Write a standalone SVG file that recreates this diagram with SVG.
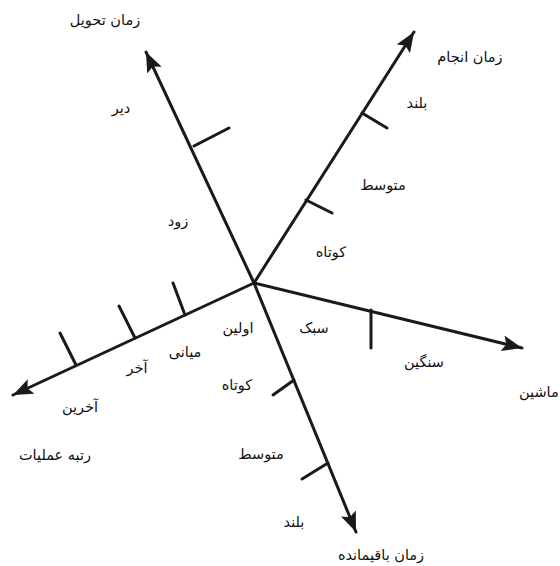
<svg xmlns="http://www.w3.org/2000/svg" width="560" height="566" viewBox="0 0 560 566">
<style>
.ax{stroke:#1a1a1a;stroke-width:3;fill:none;stroke-linecap:round}
.tk{stroke:#1a1a1a;stroke-width:3;fill:none;stroke-linecap:round}
text{font-family:"DejaVu Sans",sans-serif;font-size:14.5px;fill:#111;text-anchor:middle}
</style>
<defs>
<marker id="arr" markerUnits="userSpaceOnUse" markerWidth="24" markerHeight="18" refX="20" refY="8" orient="auto">
<path d="M0,0 L20,8 L0,16 L4,8 Z" fill="#1a1a1a"/>
</marker>
</defs>
<g id="connectors">
<line class="ax" x1="254" y1="283" x2="146" y2="52" marker-end="url(#arr)"/>
<line class="ax" x1="254" y1="283" x2="414" y2="32" marker-end="url(#arr)"/>
<line class="ax" x1="254" y1="283" x2="522" y2="348" marker-end="url(#arr)"/>
<line class="ax" x1="254" y1="283" x2="13" y2="395" marker-end="url(#arr)"/>
<line class="ax" x1="254" y1="283" x2="356" y2="532" marker-end="url(#arr)"/>
<line class="tk" x1="194" y1="146" x2="229" y2="128"/>
<line class="tk" x1="362" y1="113" x2="387" y2="128"/>
<line class="tk" x1="306" y1="200" x2="332" y2="213"/>
<line class="tk" x1="371" y1="310" x2="371" y2="348"/>
<line class="tk" x1="185" y1="315" x2="173" y2="283"/>
<line class="tk" x1="135" y1="338" x2="119" y2="306"/>
<line class="tk" x1="76" y1="365" x2="60" y2="333"/>
<line class="tk" x1="294" y1="380" x2="273" y2="395"/>
<line class="tk" x1="328" y1="463" x2="302" y2="479"/>
</g>
<g id="axis-delivery">
<text x="105" y="25">زمان تحویل</text>
<text x="121" y="113">دیر</text>
<text x="178" y="226">زود</text>
</g>
<g id="axis-duration">
<text x="470" y="62">زمان انجام</text>
<text x="417" y="108">بلند</text>
<text x="383" y="190">متوسط</text>
<text x="331" y="257">کوتاه</text>
</g>
<g id="axis-machine">
<text x="314" y="333">سبک</text>
<text x="424" y="367">سنگین</text>
<text x="519" y="397" style="text-anchor:start">ماشین</text>
</g>
<g id="axis-rank">
<text x="238" y="333">اولین</text>
<text x="185" y="357">میانی</text>
<text x="137" y="373">آخر</text>
<text x="80" y="412">آخرین</text>
<text x="55" y="460">رتبه عملیات</text>
</g>
<g id="axis-remaining">
<text x="237" y="390">کوتاه</text>
<text x="261" y="459">متوسط</text>
<text x="294" y="527">بلند</text>
<text x="381" y="560">زمان باقیمانده</text>
</g>
</svg>
